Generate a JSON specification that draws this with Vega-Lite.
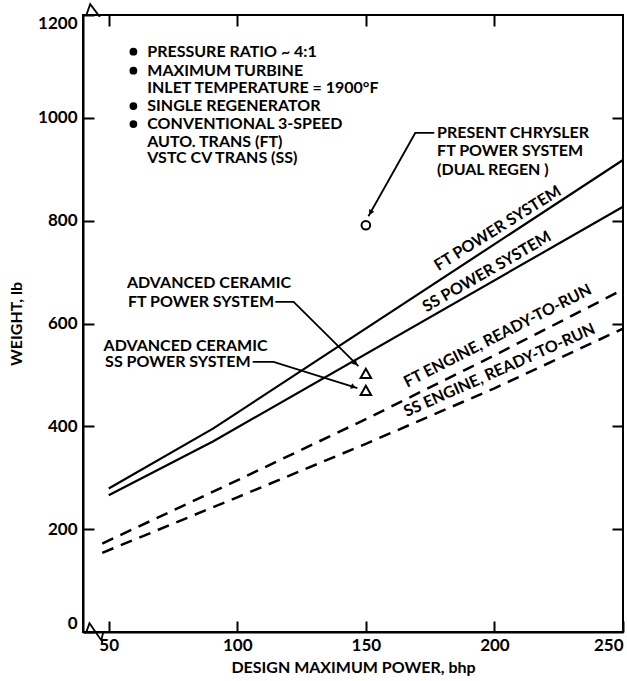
{
  "$schema": "https://vega.github.io/schema/vega-lite/v6.json",
  "width": 540,
  "height": 617,
  "autosize": "none",
  "padding": {"left": 83, "top": 15, "right": 4, "bottom": 49},
  "background": "white",
  "config": {
    "view": {"stroke": "black", "strokeWidth": 2},
    "font": "Lato",
    "axis": {
      "grid": false,
      "domainColor": "black",
      "domainWidth": 2,
      "tickColor": "black",
      "tickWidth": 2,
      "tickSize": -11,
      "labelFont": "Lato",
      "labelFontWeight": "bold",
      "labelFontSize": 17,
      "labelColor": "black",
      "labelFlush": true,
      "titleFont": "Lato",
      "titleFontWeight": "bold",
      "titleFontSize": 16,
      "titleColor": "black"
    },
    "text": {"font": "Lato", "fontWeight": "bold", "fontSize": 16, "color": "black"}
  },
  "datasets": {
    "curves": [
      {"s": "FT power", "x": 50, "y": 279},
      {"s": "FT power", "x": 90.7, "y": 396},
      {"s": "FT power", "x": 250, "y": 918},
      {"s": "SS power", "x": 50, "y": 266},
      {"s": "SS power", "x": 90.7, "y": 371},
      {"s": "SS power", "x": 250, "y": 827}
    ],
    "engines": [
      {"s": "FT engine", "x": 47.5, "y": 172},
      {"s": "FT engine", "x": 100, "y": 295},
      {"s": "FT engine", "x": 150, "y": 414},
      {"s": "FT engine", "x": 200, "y": 538},
      {"s": "FT engine", "x": 250, "y": 666},
      {"s": "SS engine", "x": 47.5, "y": 154},
      {"s": "SS engine", "x": 100, "y": 262},
      {"s": "SS engine", "x": 150, "y": 366},
      {"s": "SS engine", "x": 200, "y": 474},
      {"s": "SS engine", "x": 250, "y": 590}
    ],
    "leaders": [
      {"s": "chrysler", "x": 176.6, "y": 970.6},
      {"s": "chrysler", "x": 169.2, "y": 970.6},
      {"s": "chrysler", "x": 151.0, "y": 808.7},
      {"s": "ceramic FT", "x": 114.8, "y": 642.1},
      {"s": "ceramic FT", "x": 121.9, "y": 642.1},
      {"s": "ceramic FT", "x": 147.1, "y": 517},
      {"s": "ceramic SS", "x": 106.0, "y": 525.4},
      {"s": "ceramic SS", "x": 114.1, "y": 525.4},
      {"s": "ceramic SS", "x": 146.7, "y": 474.2},
      {"s": "break bottom", "x": 40, "y": 0},
      {"s": "break bottom", "x": 41.3, "y": 0},
      {"s": "break bottom", "x": 42.5, "y": 17},
      {"s": "break bottom", "x": 47.1, "y": -16},
      {"s": "break bottom", "x": 47.9, "y": 0},
      {"s": "break top", "x": 40, "y": 1200},
      {"s": "break top", "x": 41.3, "y": 1200},
      {"s": "break top", "x": 42.8, "y": 1221},
      {"s": "break top", "x": 46.3, "y": 1198},
      {"s": "break top", "x": 47.1, "y": 1200}
    ],
    "arrows": [
      {"s": "chrysler", "x": 151.8, "y": 815.6},
      {"s": "ceramic FT", "x": 146.0, "y": 522.5},
      {"s": "ceramic SS", "x": 145.2, "y": 476.7}
    ],
    "points": [
      {"s": "Present Chrysler FT power system", "x": 150, "y": 791},
      {"s": "Advanced ceramic FT power system", "x": 150, "y": 503},
      {"s": "Advanced ceramic SS power system", "x": 150, "y": 470}
    ],
    "notes": [
      {"x": 65.0, "y": 1128.6, "t": "PRESSURE RATIO ~ 4:1"},
      {"x": 65.0, "y": 1091.6, "t": "MAXIMUM TURBINE"},
      {"x": 65.0, "y": 1057.4, "t": "INLET TEMPERATURE = 1900°F"},
      {"x": 65.0, "y": 1023, "t": "SINGLE REGENERATOR"},
      {"x": 65.0, "y": 988, "t": "CONVENTIONAL 3-SPEED"},
      {"x": 65.0, "y": 953.5, "t": "AUTO. TRANS (FT)"},
      {"x": 65.0, "y": 921.2, "t": "VSTC CV TRANS (SS)"},
      {"x": 177.7, "y": 970.6, "t": "PRESENT CHRYSLER"},
      {"x": 177.7, "y": 935.4, "t": "FT POWER SYSTEM"},
      {"x": 177.7, "y": 898.4, "t": "(DUAL REGEN )"},
      {"x": 57.1, "y": 677.9, "t": "ADVANCED CERAMIC"},
      {"x": 57.5, "y": 642.1, "t": "FT POWER SYSTEM"},
      {"x": 48.0, "y": 555.5, "t": "ADVANCED CERAMIC"},
      {"x": 48.6, "y": 525.4, "t": "SS POWER SYSTEM"}
    ],
    "bullets": [
      {"x": 59.6, "y": 1128.6},
      {"x": 59.6, "y": 1091.6},
      {"x": 59.6, "y": 1023},
      {"x": 59.6, "y": 988}
    ],
    "labels": [
      {"s": "FT power", "x": 201.3, "y": 785, "t": "FT POWER SYSTEM"},
      {"s": "SS power", "x": 197.1, "y": 700.5, "t": "SS POWER SYSTEM"},
      {"s": "FT engine", "x": 201.3, "y": 575.8, "t": "FT ENGINE, READY-TO-RUN"},
      {"s": "SS engine", "x": 202, "y": 509, "t": "SS ENGINE, READY-TO-RUN"}
    ]
  },
  "encoding": {
    "x": {"field": "x", "type": "quantitative", "scale": {"domain": [40, 250], "nice": false, "zero": false}, "axis": null},
    "y": {"field": "y", "type": "quantitative", "scale": {"domain": [0, 1200], "nice": false, "zero": false}, "axis": null}
  },
  "resolve": {"axis": {"x": "independent", "y": "independent"}},
  "layer": [
    {
      "data": {"name": "curves"},
      "mark": {"type": "line", "color": "black", "strokeWidth": 2.2},
      "encoding": {
        "x": {"field": "x", "type": "quantitative", "scale": {"domain": [40, 250], "nice": false, "zero": false},
              "axis": {"orient": "bottom", "values": [50, 100, 150, 200, 250], "format": "d", "labelPadding": 16, "title": "DESIGN MAXIMUM POWER, bhp", "titlePadding": 6}},
        "y": {"field": "y", "type": "quantitative", "scale": {"domain": [0, 1200], "nice": false, "zero": false},
              "axis": {"orient": "left", "values": [0, 200, 400, 600, 800, 1000, 1200], "format": "d", "labelPadding": 17, "title": "WEIGHT, lb", "titlePadding": 13}},
        "detail": {"field": "s"}
      }
    },
    {
      "data": {"name": "engines"},
      "mark": {"type": "line", "color": "black", "strokeWidth": 2.5, "strokeDash": [12, 8]},
      "encoding": {
        "x": {"field": "x", "type": "quantitative", "scale": {"domain": [40, 250], "nice": false, "zero": false},
              "axis": {"orient": "top", "values": [50, 100, 150, 200], "labels": false, "domain": false, "title": null}},
        "y": {"field": "y", "type": "quantitative", "scale": {"domain": [0, 1200], "nice": false, "zero": false},
              "axis": {"orient": "right", "values": [200, 400, 600, 800, 1000], "labels": false, "domain": false, "title": null}},
        "detail": {"field": "s"}
      }
    },
    {
      "data": {"name": "leaders"},
      "mark": {"type": "line", "color": "black", "strokeWidth": 1.8},
      "encoding": {"detail": {"field": "s"}}
    },
    {
      "data": {"name": "points"},
      "transform": [{"filter": "datum.s == 'Present Chrysler FT power system'"}],
      "mark": {"type": "point", "shape": "circle", "size": 75, "filled": true, "fill": "white", "stroke": "black", "strokeWidth": 2, "opacity": 1, "fillOpacity": 1, "strokeOpacity": 1}
    },
    {
      "data": {"name": "points"},
      "transform": [{"filter": "datum.s != 'Present Chrysler FT power system'"}],
      "mark": {"type": "point", "shape": "triangle-up", "size": 110, "filled": true, "fill": "white", "stroke": "black", "strokeWidth": 2, "opacity": 1, "fillOpacity": 1, "strokeOpacity": 1}
    },
    {
      "data": {"name": "arrows"},
      "transform": [{"filter": "datum.s == 'chrysler'"}],
      "mark": {"type": "point", "shape": "triangle-down", "size": 35, "filled": true, "color": "black", "opacity": 1, "angle": 29.5}
    },
    {
      "data": {"name": "arrows"},
      "transform": [{"filter": "datum.s == 'ceramic FT'"}],
      "mark": {"type": "point", "shape": "triangle-down", "size": 35, "filled": true, "color": "black", "opacity": 1, "angle": -45}
    },
    {
      "data": {"name": "arrows"},
      "transform": [{"filter": "datum.s == 'ceramic SS'"}],
      "mark": {"type": "point", "shape": "triangle-down", "size": 35, "filled": true, "color": "black", "opacity": 1, "angle": -70.5}
    },
    {
      "data": {"name": "bullets"},
      "mark": {"type": "point", "shape": "circle", "size": 60, "filled": true, "color": "black", "opacity": 1}
    },
    {
      "data": {"name": "notes"},
      "mark": {"type": "text", "align": "left", "baseline": "middle"},
      "encoding": {"text": {"field": "t"}}
    },
    {
      "data": {"name": "labels"},
      "transform": [{"filter": "datum.s == 'FT power'"}],
      "mark": {"type": "text", "align": "center", "baseline": "middle", "angle": -32},
      "encoding": {"text": {"field": "t"}}
    },
    {
      "data": {"name": "labels"},
      "transform": [{"filter": "datum.s == 'SS power'"}],
      "mark": {"type": "text", "align": "center", "baseline": "middle", "angle": -30},
      "encoding": {"text": {"field": "t"}}
    },
    {
      "data": {"name": "labels"},
      "transform": [{"filter": "datum.s == 'FT engine'"}],
      "mark": {"type": "text", "align": "center", "baseline": "middle", "angle": -27},
      "encoding": {"text": {"field": "t"}}
    },
    {
      "data": {"name": "labels"},
      "transform": [{"filter": "datum.s == 'SS engine'"}],
      "mark": {"type": "text", "align": "center", "baseline": "middle", "angle": -24},
      "encoding": {"text": {"field": "t"}}
    }
  ]
}
